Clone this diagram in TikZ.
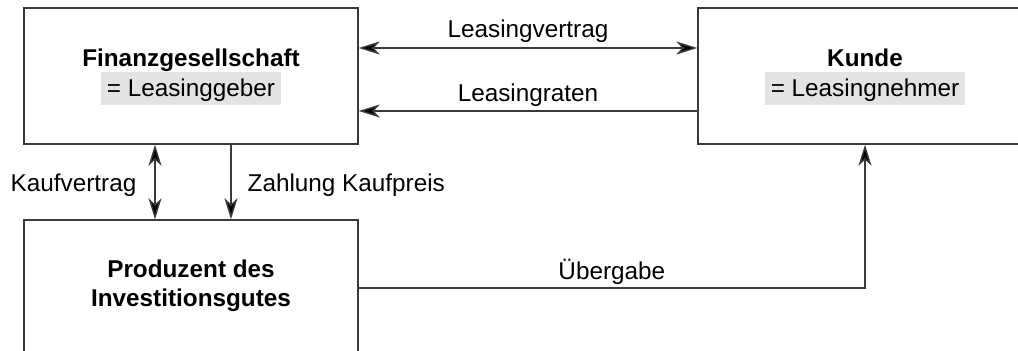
\documentclass[tikz,border=0pt]{standalone}
\usepackage{fontspec}
\setmainfont{Liberation Sans}
\usetikzlibrary{arrows.meta}
\definecolor{linegray}{HTML}{3A3A3A}
\definecolor{hlgray}{HTML}{E3E3E3}
\tikzset{
  boxnode/.style={draw=linegray, line width=0.7pt, rectangle, minimum width=167pt, minimum height=68pt, inner sep=0pt},
  titlenode/.style={font=\fontsize{12.15}{14}\selectfont\bfseries, inner sep=0pt, anchor=base},
  hlnode/.style={fill=hlgray, font=\fontsize{12.15}{14}\selectfont, inner xsep=3pt, inner ysep=2pt, text height=10.5pt, text depth=2pt, anchor=base},
  lbl/.style={font=\fontsize{12.15}{14}\selectfont, inner sep=0pt},
  tipshape/.style={},
  conn/.style={draw=linegray, line width=0.7pt, -{Stealth[length=10.5pt, width=6.5pt, inset=3pt, fill=black]}},
  dconn/.style={draw=linegray, line width=0.7pt, {Stealth[length=10.5pt, width=6.5pt, inset=3pt, fill=black]}-{Stealth[length=10.5pt, width=6.5pt, inset=3pt, fill=black]}},
}
\begin{document}
\begin{tikzpicture}[x=0.5pt, y=-0.5pt]
\useasboundingbox (0,0) rectangle (1018,351);
\clip (0,0) rectangle (1018,351);
% boxes
\node[boxnode] (fin) at (191,76) {};
\node[boxnode] (kun) at (865,76) {};
\node[boxnode] (prod) at (191,288) {};
% box texts
\node[titlenode] (finT) at (191,67) {Finanzgesellschaft};
\node[hlnode] (finH) at (191,97) {= Leasinggeber};
\node[titlenode] (kunT) at (865,67) {Kunde};
\node[hlnode] (kunH) at (865,97) {= Leasingnehmer};
\node[titlenode] (prodT1) at (191,278) {Produzent des};
\node[titlenode] (prodT2) at (191,307) {Investitionsgutes};
% connectors
\draw[dconn] ([yshift=14pt]fin.east) -- ([yshift=14pt]kun.west)
  node[lbl, midway, anchor=base, yshift=5pt] (lv) {Leasingvertrag};
\draw[conn] ([yshift=-17.5pt]kun.west) -- ([yshift=-17.5pt]fin.east)
  node[lbl, midway, anchor=base, yshift=4.5pt] (lr) {Leasingraten};
\draw[dconn] ([xshift=-18pt]fin.south) -- ([xshift=-18pt]prod.north)
  node[lbl, pos=0.63, anchor=base east, xshift=-9pt] (kv) {Kaufvertrag};
\draw[conn] ([xshift=20pt]fin.south) -- ([xshift=20pt]prod.north)
  node[lbl, pos=0.63, anchor=base west, xshift=8pt] (zk) {Zahlung Kaufpreis};
\coordinate (corner) at (prod.east -| kun.south);
\draw[conn] (prod.east) -- (corner)
  node[lbl, midway, anchor=base, yshift=4pt] (ub) {Übergabe}
  -- (kun.south);
\end{tikzpicture}
\end{document}
